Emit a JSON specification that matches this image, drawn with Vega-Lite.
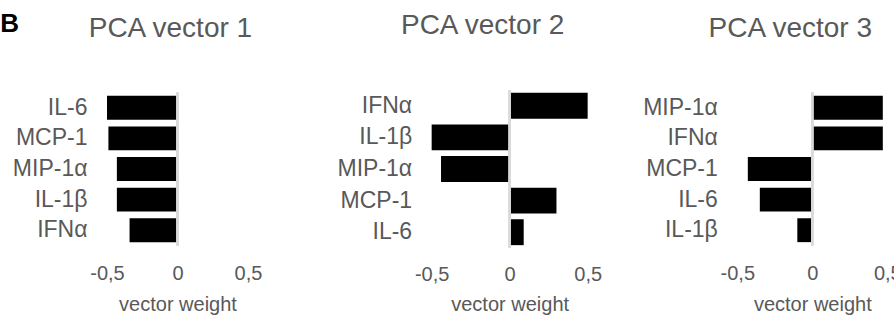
{
  "$schema": "https://vega.github.io/schema/vega-lite/v6.json",
  "background": "white",
  "padding": {"left": 0, "top": 11, "right": 0, "bottom": 0},
  "title": {
    "text": "B",
    "anchor": "start",
    "frame": "bounds",
    "font": "Liberation Sans",
    "fontSize": 26,
    "fontWeight": "bold",
    "color": "#000000",
    "offset": -25,
    "dx": -12
  },
  "datasets": {
    "weights": [
      {"panel": "PCA vector 1", "cytokine": "IL-6", "weight": -0.50},
      {"panel": "PCA vector 1", "cytokine": "MCP-1", "weight": -0.49},
      {"panel": "PCA vector 1", "cytokine": "MIP-1α", "weight": -0.43},
      {"panel": "PCA vector 1", "cytokine": "IL-1β", "weight": -0.43},
      {"panel": "PCA vector 1", "cytokine": "IFNα", "weight": -0.34},
      {"panel": "PCA vector 2", "cytokine": "IFNα", "weight": 0.50},
      {"panel": "PCA vector 2", "cytokine": "IL-1β", "weight": -0.50},
      {"panel": "PCA vector 2", "cytokine": "MIP-1α", "weight": -0.44},
      {"panel": "PCA vector 2", "cytokine": "MCP-1", "weight": 0.30},
      {"panel": "PCA vector 2", "cytokine": "IL-6", "weight": 0.09},
      {"panel": "PCA vector 3", "cytokine": "MIP-1α", "weight": 0.47},
      {"panel": "PCA vector 3", "cytokine": "IFNα", "weight": 0.47},
      {"panel": "PCA vector 3", "cytokine": "MCP-1", "weight": -0.43},
      {"panel": "PCA vector 3", "cytokine": "IL-6", "weight": -0.35},
      {"panel": "PCA vector 3", "cytokine": "IL-1β", "weight": -0.10}
    ]
  },
  "data": {"name": "weights"},
  "bounds": "flush",
  "center": true,
  "spacing": 149.66,
  "config": {
    "font": "Liberation Sans",
    "view": {"stroke": null},
    "title": {
      "font": "Liberation Sans",
      "fontSize": 28,
      "fontWeight": "normal",
      "color": "#595959",
      "anchor": "middle",
      "offset": 49
    },
    "axisY": {
      "title": null,
      "domain": false,
      "ticks": false,
      "tickSize": 0,
      "grid": false,
      "labelFont": "Liberation Sans",
      "labelFontSize": 23,
      "labelColor": "#595959",
      "labelPadding": 20
    },
    "axisX": {
      "domain": false,
      "ticks": false,
      "tickSize": 0,
      "grid": false,
      "labelFont": "Liberation Sans",
      "labelFontSize": 20,
      "labelColor": "#595959",
      "labelPadding": 18,
      "labelFlush": false,
      "labelOverlap": false,
      "titleFont": "Liberation Sans",
      "titleFontSize": 20,
      "titleFontWeight": "normal",
      "titleColor": "#595959",
      "titlePadding": 11
    }
  },
  "hconcat": [
    {
      "width": 174.84,
      "height": 153,
      "title": {"text": "PCA vector 1", "dx": -24},
      "transform": [{"filter": "datum.panel === 'PCA vector 1'"}],
      "layer": [
        {
          "mark": {"type": "bar", "color": "#000000"},
          "encoding": {
            "y": {"field": "cytokine", "type": "nominal", "sort": null, "scale": {"paddingInner": 0.22, "paddingOuter": 0.11}},
            "x": {"field": "weight", "type": "quantitative", "scale": {"domain": [-0.5, 0.74], "nice": false, "zero": false},
                  "axis": {"title": "vector weight", "titleX": 70.5, "titleAlign": "center", "values": [-0.5, 0, 0.5],
                           "labelExpr": "datum.value < 0 ? '-' + replace(format(-datum.value, '.1~f'), '.', ',') : replace(format(datum.value, '.1~f'), '.', ',')"}}
          }
        },
        {
          "mark": {"type": "rule", "color": "#d9d9d9", "strokeWidth": 2},
          "encoding": {"x": {"datum": 0}}
        }
      ]
    },
    {
      "width": 156,
      "height": 158,
      "title": {"text": "PCA vector 2", "dx": -27},
      "transform": [{"filter": "datum.panel === 'PCA vector 2'"}],
      "layer": [
        {
          "mark": {"type": "bar", "color": "#000000"},
          "encoding": {
            "y": {"field": "cytokine", "type": "nominal", "sort": null, "scale": {"paddingInner": 0.18, "paddingOuter": 0.09}},
            "x": {"field": "weight", "type": "quantitative", "scale": {"domain": [-0.5, 0.5], "nice": false, "zero": false},
                  "axis": {"title": "vector weight", "values": [-0.5, 0, 0.5], "labelPadding": 16, "titlePadding": 10,
                           "labelExpr": "datum.value < 0 ? '-' + replace(format(-datum.value, '.1~f'), '.', ',') : replace(format(datum.value, '.1~f'), '.', ',')"}}
          }
        },
        {
          "mark": {"type": "rule", "color": "#d9d9d9", "strokeWidth": 2},
          "encoding": {"x": {"datum": 0}}
        }
      ]
    },
    {
      "width": 150,
      "height": 153,
      "title": {"text": "PCA vector 3", "dx": -22},
      "transform": [{"filter": "datum.panel === 'PCA vector 3'"}],
      "layer": [
        {
          "mark": {"type": "bar", "color": "#000000"},
          "encoding": {
            "y": {"field": "cytokine", "type": "nominal", "sort": null, "scale": {"paddingInner": 0.22, "paddingOuter": 0.11}},
            "x": {"field": "weight", "type": "quantitative", "scale": {"domain": [-0.5, 0.5], "nice": false, "zero": false},
                  "axis": {"title": "vector weight", "values": [-0.5, 0, 0.5],
                           "labelExpr": "datum.value < 0 ? '-' + replace(format(-datum.value, '.1~f'), '.', ',') : replace(format(datum.value, '.1~f'), '.', ',')"}}
          }
        },
        {
          "mark": {"type": "rule", "color": "#d9d9d9", "strokeWidth": 2},
          "encoding": {"x": {"datum": 0}}
        }
      ]
    }
  ]
}
